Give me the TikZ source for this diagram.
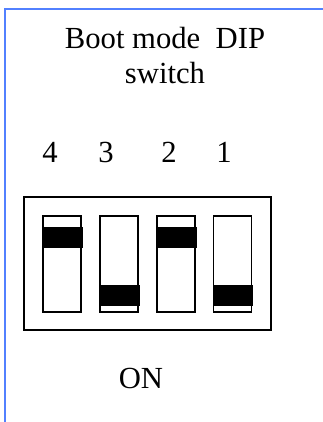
\documentclass[tikz,border=0pt]{standalone}
\usepackage{fontspec}
\setmainfont{Liberation Serif}
\usetikzlibrary{positioning}
\definecolor{frameblue}{RGB}{82,128,255}

\begin{document}
\begin{tikzpicture}[x=0.75pt, y=-0.75pt,
  lbl/.style={font=\fontsize{23}{26.25}\selectfont, inner sep=0pt},
  slot/.style={draw, line width=0.9pt, minimum width=28.5pt, minimum height=72pt, inner sep=0pt},
  knob/.style={fill=black, minimum width=30pt, minimum height=15.75pt, inner sep=0pt}]
\useasboundingbox (0,0) rectangle (323,422);
% Frame -- left and top edge only
\draw[frameblue, line width=1.6pt] (5,422) -- (5,9) -- (323,9);
% Title
\node[lbl, align=center, anchor=base] (title) at (165,83) {Boot mode~ DIP\\switch};
% Switch numbers
\foreach \x/\n in {50/4, 106/3, 169/2, 224/1} {
    \node[lbl, anchor=base] (n\n) at (\x,162) {\n};
}
% Switch body
\node[draw, line width=0.9pt, minimum width=185.25pt, minimum height=99.75pt] (body) at (147.5,263.5) {};
% Slots
\node[slot] (s4) at (62,264) {};
\node[slot] (s3) at (119,264) {};
\node[slot] (s2) at (176,264) {};
\node[slot] (s1) at (232.5,264) {};
% Knobs (4 and 2 up, 3 and 1 down)
\node[knob, anchor=north west] (k4) at ([yshift=-8.25pt]s4.north west) {};
\node[knob, anchor=south west] (k3) at ([yshift=4.5pt]s3.south west) {};
\node[knob, anchor=north west] (k2) at ([yshift=-8.25pt]s2.north west) {};
\node[knob, anchor=south west] (k1) at ([yshift=4.5pt]s1.south west) {};
% Label below
\node[lbl, anchor=base] (on) at (141,388) {ON};
\end{tikzpicture}
\end{document}
